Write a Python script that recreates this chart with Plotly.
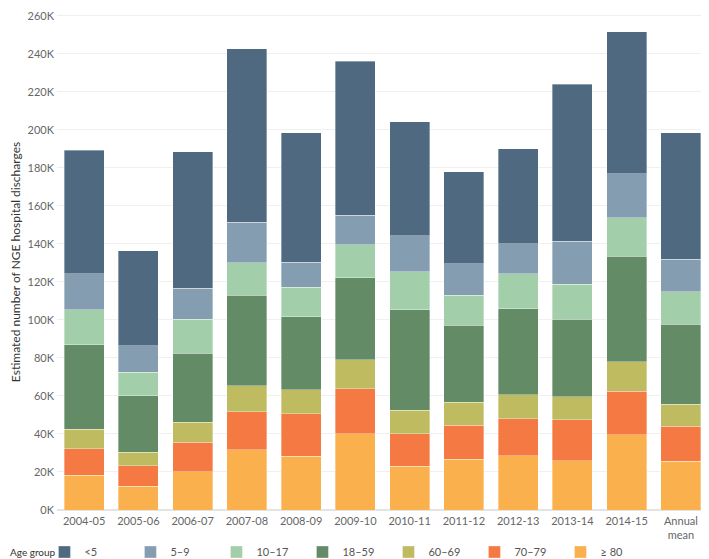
import plotly.graph_objects as go

years = ["2004-05", "2005-06", "2006-07", "2007-08", "2008-09", "2009-10",
         "2010-11", "2011-12", "2012-13", "2013-14", "2014-15", "Annual<br>mean"]

# discharges in thousands, one list per age group
under5 = [65.0, 50.1, 71.7, 91.2, 68.3, 81.0, 59.8, 48.2, 49.8, 82.6, 74.8, 66.6]
age5_9 = [18.8, 13.8, 16.2, 21.3, 13.0, 15.6, 19.1, 16.7, 16.0, 22.5, 23.1, 17.1]
age10_17 = [18.6, 12.4, 17.9, 17.2, 15.6, 17.4, 19.8, 15.8, 18.2, 18.6, 20.3, 17.2]
age18_59 = [44.5, 29.8, 36.5, 47.4, 38.4, 43.2, 53.0, 40.6, 45.4, 40.8, 55.6, 42.0]
age60_69 = [10.2, 7.0, 10.5, 13.7, 12.7, 15.2, 12.4, 12.1, 12.6, 11.9, 15.3, 11.7]
age70_79 = [13.8, 10.8, 15.6, 20.0, 22.4, 23.7, 17.2, 17.9, 19.5, 21.6, 22.9, 18.4]
age80plus = [18.4, 12.6, 20.0, 31.8, 28.2, 40.1, 22.9, 26.6, 28.5, 26.0, 39.7, 25.6]

groups = ["<5", "5–9", "10–17", "18–59", "60–69", "70–79", "≥ 80"]
series = [under5, age5_9, age10_17, age18_59, age60_69, age70_79, age80plus]
colors = ["#4f6980", "#849db1", "#a2ceaa", "#638b66", "#bfbb60", "#f47942", "#fbb04e"]

yticks = list(range(0, 260001, 20000))

fig = go.Figure()

# bottom of the stack first (≥ 80), legend shown reversed
for name, vals, col in reversed(list(zip(groups, series, colors))):
    fig.add_trace(go.Bar(x=years, y=[v * 1000 for v in vals], name=name,
                         marker=dict(color=col, line=dict(color="rgba(255,255,255,0.7)", width=0.5))))

# page body adds an 8px margin, so the figure is drawn 8px smaller
fig.update_layout(barmode="stack", bargap=0.263, width=701, height=551,
                  margin=dict(l=49, r=1, t=6, b=49, autoexpand=False),
                  plot_bgcolor="white", paper_bgcolor="white",
                  font=dict(family="Lato", size=11, color="#666666"),
                  legend=dict(orientation="h", traceorder="reversed",
                              xref="container", yref="container", x=0.052, y=0.0127,
                              xanchor="left", yanchor="middle",
                              entrywidth=41, entrywidthmode="pixels",
                              itemclick=False,
                              font=dict(size=11, color="#555555")))

fig.add_annotation(text="Age group", xref="paper", yref="paper", x=-49 / 651, y=-42 / 496,
                   xanchor="left", yanchor="middle", showarrow=False,
                   font=dict(color="#333333", size=10))

fig.update_yaxes(range=[0, 261000], tickvals=yticks,
                 ticktext=[f"{v // 1000}K" for v in yticks],
                 showgrid=True, gridcolor="#f0f0f0", gridwidth=1,
                 zeroline=True, zerolinecolor="#e4e4e4", ticks="", ticklabelstandoff=2,
                 ticklabeloverflow="allow",
                 title=dict(text="Estimated number of NGE hospital discharges",
                            font=dict(color="#333333", size=12), standoff=6))
fig.update_xaxes(type="category", showgrid=False, ticks="", ticklabelstandoff=3,
                 tickfont=dict(color="#666666"))

fig.write_html("out.html")
